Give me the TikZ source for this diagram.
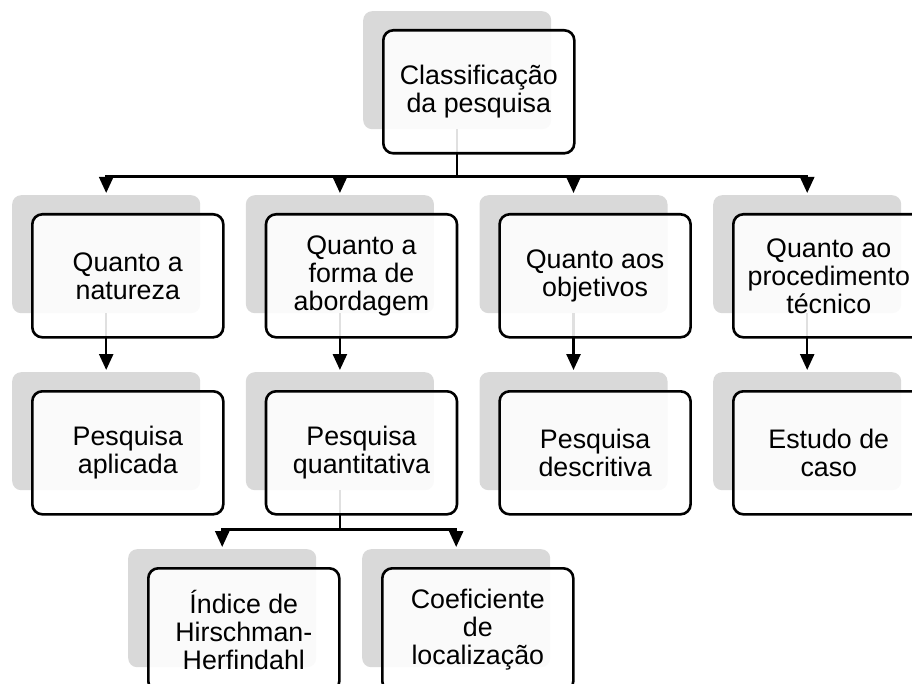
\documentclass[tikz,border=0pt]{standalone}
\usepackage{fontspec}
\setmainfont{Liberation Sans}
\usetikzlibrary{arrows.meta}
\definecolor{shade}{RGB}{217,217,217}

\begin{document}
\begin{tikzpicture}[x=1pt,y=-1pt,
  back/.style={fill=shade,rounded corners=9pt,minimum width=188pt,minimum height=118pt,anchor=north west,inner sep=0pt},
  card/.style={draw=black,line width=2.6pt,fill=white,fill opacity=0.88,text opacity=1,rounded corners=10pt,
    minimum width=191pt,minimum height=123pt,anchor=north west,inner sep=0pt,align=center,
    font=\fontsize{26.8}{28}\selectfont},
  link/.style={line width=2.5pt,-{Triangle[width=14pt,length=16pt]},shorten >=2pt}]
\path[use as bounding box,clip] (0,0) rectangle (912,684);
\node[back] (g0) at (363,11) {};
\node[back] (g1) at (12,195) {};
\node[back] (g2) at (245.7,195) {};
\node[back] (g3) at (479.3,195) {};
\node[back] (g4) at (713,195) {};
\node[back] (g5) at (12,372) {};
\node[back] (g6) at (245.7,372) {};
\node[back] (g7) at (479.3,372) {};
\node[back] (g8) at (713,372) {};
\node[back] (g9) at (128,549) {};
\node[back] (g10) at (362,549) {};
\draw[link] (g0.south) -- ++(0,47) -| (g1.north);
\draw[link] (g0.south) -- ++(0,47) -| (g2.north);
\draw[link] (g0.south) -- ++(0,47) -| (g3.north);
\draw[link] (g0.south) -- ++(0,47) -| (g4.north);
\draw[link] (g1.south) -- (g5.north);
\draw[link] (g2.south) -- (g6.north);
\draw[link] (g3.south) -- (g7.north);
\draw[link] (g4.south) -- (g8.north);
\draw[link] (g6.south) -- ++(0,39) -| (g9.north);
\draw[link] (g6.south) -- ++(0,39) -| (g10.north);
\node[card] (c0) at ([shift={(19,18)}]g0.north west) {Classificação\\da pesquisa};
\node[card] (c1) at ([shift={(19,18)}]g1.north west) {Quanto a\\natureza};
\node[card] (c2) at ([shift={(19,18)}]g2.north west) {Quanto a\\forma de\\abordagem};
\node[card] (c3) at ([shift={(19,18)}]g3.north west) {Quanto aos\\objetivos};
\node[card] (c4) at ([shift={(19,18)}]g4.north west) {Quanto ao\\procedimento\\técnico};
\node[card] (c5) at ([shift={(19,18)}]g5.north west) {Pesquisa\\aplicada};
\node[card] (c6) at ([shift={(19,18)}]g6.north west) {Pesquisa\\quantitativa};
\node[card] (c7) at ([shift={(19,18)}]g7.north west) {Pesquisa\\descritiva};
\node[card] (c8) at ([shift={(19,18)}]g8.north west) {Estudo de\\caso};
\node[card] (c9) at ([shift={(19,18)}]g9.north west) {Índice de\\Hirschman-\\Herfindahl};
\node[card] (c10) at ([shift={(19,18)}]g10.north west) {Coeficiente\\de\\localização};
\end{tikzpicture}
\end{document}
